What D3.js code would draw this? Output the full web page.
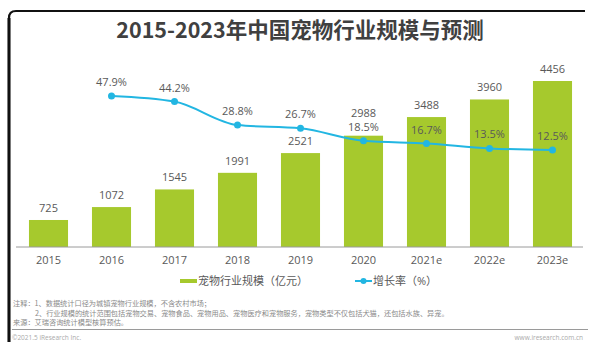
<!DOCTYPE html>
<html><head><meta charset="utf-8">
<script src="https://cdn.jsdelivr.net/npm/d3@7"></script>
<style>
html,body{margin:0;padding:0;background:#fff;}
svg{display:block;font-family:"Open Sans","Noto Sans CJK SC",sans-serif;}
</style></head>
<body><svg id="c" width="600" height="357"></svg>
<script>
const years = ["2015","2016","2017","2018","2019","2020","2021e","2022e","2023e"];
const scale = [725,1072,1545,1991,2521,2988,3488,3960,4456];
const growthYears = ["2016","2017","2018","2019","2020","2021e","2022e","2023e"];
const growth = [47.9,44.2,28.8,26.7,18.5,16.7,13.5,12.5];
const title = "2015-2023年中国宠物行业规模与预测";
const legendBar = "宠物行业规模（亿元）";
const legendLine = "增长率（%）";
const notes = ["注释：1、数据统计口径为城镇宠物行业规模，不含农村市场；",
  "2、行业规模的统计范围包括宠物交易、宠物食品、宠物用品、宠物医疗和宠物服务，宠物类型不仅包括犬猫，还包括水族、异宠。",
  "来源：艾瑞咨询统计模型核算预估。"];

const svg = d3.select("#c");
const barColor = "#a6c92d", lineColor = "#22b6e2", textColor = "#595959";

// frame
svg.append("path").attr("d","M9,342 L9,18 Q9,11 16,11 L585,11").attr("fill","none").attr("stroke","#111").attr("stroke-width",2.2);
svg.append("path").attr("d","M9,18 L9,342").attr("stroke","#111").attr("stroke-width",3);

svg.append("text").attr("x",300).attr("y",38).attr("text-anchor","middle")
  .attr("font-size",21.5).attr("font-weight","bold").attr("fill","#404040")
  .style("font-family","'Noto Sans CJK SC',sans-serif").text(title);

const x = d3.scaleBand().domain(years).range([17,584]).paddingInner(0.38).paddingOuter(0.19);
const y = d3.scaleLinear().domain([0,4456]).range([247,81]);
const y2 = d3.scaleLinear().domain([0,50]).range([169,92.75]);

svg.selectAll("rect.bar").data(years).join("rect").attr("class","bar")
  .attr("x",d=>x(d)).attr("width",x.bandwidth())
  .attr("y",(d,i)=>y(scale[i])).attr("height",(d,i)=>y(0)-y(scale[i]))
  .attr("fill",barColor);

const gLabelY = d => { const k = growthYears.indexOf(d); return k<0 ? null : y2(growth[k]) - 10; };
const barLabelY = (d,i) => {
  let by = y(scale[i]) - 8;
  const gy = gLabelY(d);
  if (gy !== null && Math.abs(gy - by) < 14) by = gy - 14;
  return by;
};

svg.selectAll("text.bl").data(years).join("text").attr("class","bl")
  .attr("x",d=>x(d)+x.bandwidth()/2).attr("y",barLabelY)
  .attr("text-anchor","middle").attr("font-size",11).attr("fill",textColor)
  .text((d,i)=>scale[i]);

// x axis
const axis = svg.append("g").attr("transform","translate(0,247)")
  .call(d3.axisBottom(x).tickSize(0).tickPadding(9));
axis.select(".domain").attr("stroke","#9a9a9a").attr("d","M16,0H583");
axis.selectAll("text").attr("font-size",11).attr("fill",textColor)
  .style("font-family","'Open Sans',sans-serif");

// line
const cx = d=>x(d)+x.bandwidth()/2;
const pts = growthYears.map((d,i)=>[cx(d), y2(growth[i])]);
svg.append("path").attr("d",d3.line().curve(d3.curveMonotoneX)(pts))
  .attr("fill","none").attr("stroke",lineColor).attr("stroke-width",2);
svg.selectAll("circle.pt").data(pts).join("circle").attr("class","pt")
  .attr("cx",d=>d[0]).attr("cy",d=>d[1]).attr("r",3.5).attr("fill",lineColor);
svg.selectAll("text.gl").data(growthYears).join("text").attr("class","gl")
  .attr("x",d=>cx(d)).attr("y",d=>gLabelY(d))
  .attr("text-anchor","middle").attr("font-size",11).attr("fill",textColor)
  .text((d,i)=>growth[i].toFixed(1)+"%");

// legend
const lg = svg.append("g").attr("font-size",11).attr("fill",textColor);
lg.append("rect").attr("x",180).attr("y",279).attr("width",17).attr("height",4).attr("fill",barColor);
lg.append("text").attr("x",198).attr("y",285).attr("fill",textColor).text(legendBar);
lg.append("line").attr("x1",355).attr("x2",372).attr("y1",281).attr("y2",281).attr("stroke",lineColor).attr("stroke-width",2);
lg.append("circle").attr("cx",363.5).attr("cy",281).attr("r",3).attr("fill",lineColor);
lg.append("text").attr("x",373).attr("y",285).attr("fill",textColor).text(legendLine);

// notes
const nt = svg.append("g").attr("font-size",7.2).attr("fill","#8a8a8a").style("font-family","'Noto Sans CJK SC',sans-serif");
nt.append("text").attr("x",13).attr("y",306).text(notes[0]);
nt.append("text").attr("x",35).attr("y",316).text(notes[1]);
nt.append("text").attr("x",13).attr("y",325).text(notes[2]);
svg.append("line").attr("x1",12).attr("x2",588).attr("y1",329.5).attr("y2",329.5).attr("stroke","#9a9a9a").attr("stroke-width",1);
svg.append("text").attr("x",12).attr("y",340).attr("font-size",6.5).attr("fill","#aaa").text("©2021.5 iResearch Inc.");
svg.append("text").attr("x",583).attr("y",340).attr("text-anchor","end").attr("font-size",6.5).attr("fill","#aaa").text("www.iresearch.com.cn");
</script></body></html>
